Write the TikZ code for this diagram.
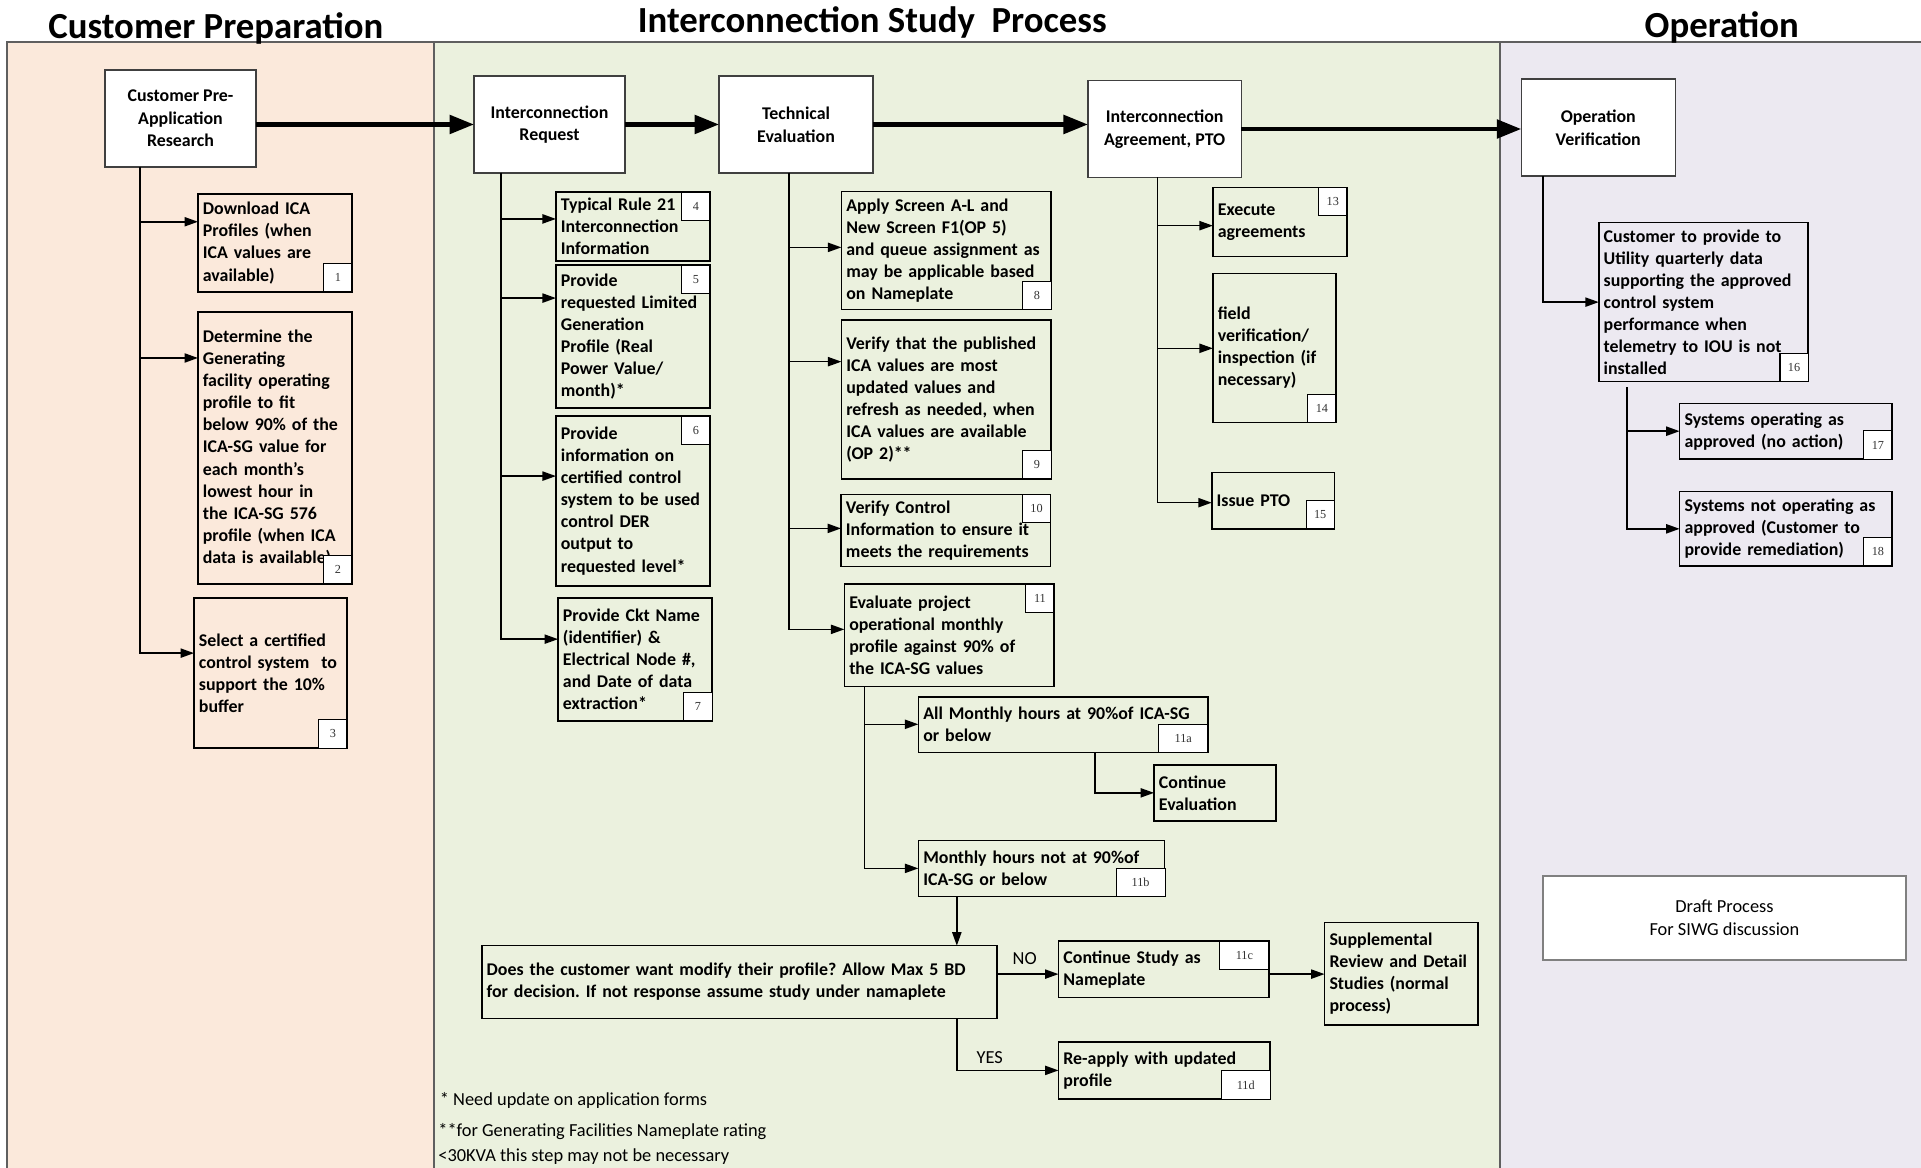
\documentclass[tikz,border=0pt]{standalone}
\usepackage{fontspec}
\setmainfont{Carlito}
\newfontfamily\numserif{Liberation Serif}
\usetikzlibrary{arrows.meta,calc}
\definecolor{peachbg}{HTML}{FBE9DB}
\definecolor{greenbg}{HTML}{EBF1DE}
\definecolor{lavbg}{HTML}{ECE9F1}
\definecolor{panelline}{HTML}{5F5F5F}
\newcommand\fSub{\frenchspacing\fontsize{14.6}{18}\selectfont\bfseries}
\newcommand\fMain{\frenchspacing\fontsize{14.6}{18.5}\selectfont\bfseries}
\newcommand\fNum{\numserif\fontsize{10}{10}\selectfont}
\newcommand\fTitle{\fontsize{30}{36}\selectfont\bfseries}
\newcommand\fPlain{\frenchspacing\fontsize{15}{19}\selectfont}
\begin{document}
\begin{tikzpicture}[x=1pt,y=-1pt,
  sub/.style={draw=black, line width=1.3pt, anchor=north west, inner xsep=4pt, inner ysep=2pt, outer sep=0pt, align=left, font=\fSub},
  mainbox/.style={draw=black!75, fill=white, line width=1.2pt, anchor=north west, inner sep=3pt, outer sep=0pt, align=center, font=\fMain},
  num/.style={draw=black, line width=0.9pt, fill=white, minimum width=23pt, minimum height=23pt, inner sep=0pt, outer sep=0pt, font=\fNum, text=black!80},
  wnum/.style={num, minimum width=40pt},
  conn/.style={line width=1.3pt, -{Triangle[length=11pt,width=7.5pt]}},
  bigarrow/.style={line width=3.6pt, -{Triangle[length=20pt,width=15pt]}},
  lbl/.style={font=\fPlain, inner sep=0pt},
  title/.style={font=\fTitle, inner sep=0pt, anchor=base}
]
\useasboundingbox (0,0) rectangle (1568,953);
% panels
\fill[white] (0,0) rectangle (1568,953);
\fill[peachbg] (5.4,34) rectangle (354.3,953);
\fill[greenbg] (354.3,34) rectangle (1224.4,953);
\fill[lavbg] (1224.4,34) rectangle (1568,953);
\draw[panelline, line width=1.5pt] (5.4,953) -- (5.4,34) -- (1568,34);
\draw[panelline, line width=1.5pt] (354.3,34) -- (354.3,953);
\draw[panelline, line width=1.5pt] (1224.4,34) -- (1224.4,953);
% titles
\node[title] (t1) at (176.2,31.5) {Customer Preparation};
\node[title] (t2) at (712,26.5) {Interconnection Study~~Process};
\node[title] (t3) at (1405.4,31) {Operation};

% main boxes
\node[mainbox, minimum width=123.3pt, minimum height=79.2pt] (CPR) at (85.7,57.1) {Customer Pre-\\Application\\Research};
\node[mainbox, minimum width=123.3pt, minimum height=79.2pt] (IR) at (386.9,62) {Interconnection\\Request};
\node[mainbox, minimum width=125.7pt, minimum height=79.2pt] (TE) at (586.9,62) {Technical\\Evaluation};
\node[mainbox, minimum width=125.3pt, minimum height=78.8pt] (IA) at (888,65.9) {Interconnection\\Agreement, PTO};
\node[mainbox, minimum width=125.7pt, minimum height=79.2pt] (OV) at (1241.7,64.5) {Operation\\Verification};

\draw[bigarrow] (CPR.east |- IR.west) -- (IR.west);
\draw[bigarrow] (IR.east) -- (TE.west);
\draw[bigarrow] (TE.east) -- (TE.east -| IA.west);
\draw[bigarrow] (IA.east) -- (IA.east -| OV.west);

% customer preparation column
\node[sub, minimum width=125.7pt, text width=117.7pt, minimum height=79.9pt] (b1) at (161.6,158.4) {Download ICA\\Profiles (when\\ICA values are\\available)};
\node[sub, minimum width=125.7pt, text width=117.7pt, minimum height=222pt] (b2) at (161.6,254.7) {Determine the\\Generating\\facility operating\\profile to fit\\below 90\% of the\\ICA-SG value for\\each month’s\\lowest hour in\\the ICA-SG 576\\profile (when ICA\\data is available)};
\node[sub, minimum width=124.8pt, text width=116.8pt, minimum height=122.5pt] (b3) at (158.4,488.1) {Select a certified\\control system~ to\\support the 10\%\\buffer};
\node[num, anchor=south east] (n1) at (b1.south east) {1};
\node[num, anchor=south east] (n2) at (b2.south east) {2};
\node[num, anchor=south east] (n3) at (b3.south east) {3};
\coordinate (cprT) at ([xshift=28.6pt]CPR.south west);
\draw[conn] (cprT) |- ([yshift=-22.6pt]b1.north west);
\draw[conn] (cprT) |- ([yshift=-37.5pt]b2.north west);
\draw[conn] (cprT) |- ([yshift=-45pt]b3.north west);

% interconnection request column
\node[sub, minimum width=125.7pt, text width=117.7pt, minimum height=56.3pt] (b4) at (453.8,156.7) {Typical Rule 21\\Interconnection\\Information};
\node[sub, minimum width=125.7pt, text width=117.7pt, minimum height=116.7pt] (b5) at (453.8,216.3) {Provide\\requested Limited\\Generation\\Profile (Real\\Power Value/\\month)*};
\node[sub, minimum width=125.7pt, text width=117.7pt, minimum height=138.7pt] (b6) at (453.8,339.6) {Provide\\information on\\certified control\\system to be used\\control DER\\output to\\requested level*};
\node[sub, minimum width=125.7pt, text width=117.7pt, minimum height=100.4pt] (b7) at (455.5,488.1) {Provide Ckt Name\\(identifier) \&\\Electrical Node \#,\\and Date of data\\extraction*};
\node[num, anchor=north east] (n4) at (b4.north east) {4};
\node[num, anchor=north east] (n5) at (b5.north east) {5};
\node[num, anchor=north east] (n6) at (b6.north east) {6};
\node[num, anchor=south east] (n7) at (b7.south east) {7};
\coordinate (irT) at ([xshift=21.8pt]IR.south west);
\draw[conn] (irT) |- ([yshift=-22pt]b4.north west);
\draw[conn] (irT) |- ([yshift=-27pt]b5.north west);
\draw[conn] (irT) |- ([yshift=-49pt]b6.north west);
\draw[conn] (irT) |- ([yshift=-33.6pt]b7.north west);

% technical evaluation column
\node[sub, minimum width=171.1pt, text width=163.1pt, minimum height=96.1pt] (b8) at (686.8,156.4) {Apply Screen A-L and\\New Screen F1(OP 5)\\and queue assignment as\\may be applicable based\\on Nameplate};
\node[sub, minimum width=171.1pt, text width=163.1pt, minimum height=129.8pt] (b9) at (686.8,261.2) {Verify that the published\\ICA values are most\\updated values and\\refresh as needed, when\\ICA values are available\\(OP 2)**};
\node[sub, minimum width=171.1pt, text width=163.1pt, minimum height=59pt] (b10) at (686.5,403.5) {Verify Control\\Information to ensure it\\meets the requirements};
\node[sub, minimum width=171.1pt, text width=163.1pt, minimum height=83.8pt] (b11) at (689.2,476.7) {Evaluate project\\operational monthly\\profile against 90\% of\\the ICA-SG values};
\node[num, anchor=south east] (n8) at (b8.south east) {8};
\node[num, anchor=south east] (n9) at (b9.south east) {9};
\node[num, anchor=north east] (n10) at (b10.north east) {10};
\node[num, anchor=north east] (n11) at (b11.north east) {11};
\coordinate (teT) at ([xshift=57.1pt]TE.south west);
\draw[conn] (teT) |- ([yshift=-45.5pt]b8.north west);
\draw[conn] (teT) |- ([yshift=-34pt]b9.north west);
\draw[conn] (teT) |- ([yshift=-27.8pt]b10.north west);
\draw[conn] (teT) |- ([yshift=-37pt]b11.north west);

% evaluation branches
\node[sub, minimum width=236.2pt, text width=228.2pt, minimum height=45.4pt] (b11a) at (749.6,568.7) {All Monthly hours at 90\%of ICA-SG\\or below};
\node[sub, minimum width=99.3pt, text width=91.3pt, minimum height=45.5pt] (ce) at (942,624.4) {Continue\\Evaluation};
\node[sub, minimum width=200.8pt, text width=192.8pt, minimum height=45.7pt] (b11b) at (749.6,686.2) {Monthly hours not at 90\%of\\ICA-SG or below};
\node[wnum, anchor=south east] (n11a) at (b11a.south east) {11a};
\node[wnum, anchor=south east] (n11b) at ([xshift=0.6pt]b11b.south east) {11b};
\coordinate (e11T) at ([xshift=16.3pt]b11.south west);
\draw[conn] (e11T) |- ([yshift=-22.5pt]b11a.north west);
\draw[conn] (e11T) |- ([yshift=-22.6pt]b11b.north west);
\coordinate (aT) at ([xshift=144.2pt]b11a.south west);
\draw[conn] (aT) |- (ce.west);

% decision
\node[sub, minimum width=420.8pt, text width=412.8pt, minimum height=59.3pt] (dec) at (393.2,771.9) {Does the customer want modify their profile? Allow Max 5 BD\\for decision. If not response assume study under namaplete};
\node[sub, minimum width=171.7pt, text width=163.7pt, minimum height=46pt] (c11) at (864,768.1) {Continue Study as\\Nameplate};
\node[sub, minimum width=172.8pt, text width=164.8pt, minimum height=46.8pt] (d11) at (864,850.3) {Re-apply with updated\\profile};
\node[sub, minimum width=125.4pt, text width=117.4pt, minimum height=83.8pt] (supp) at (1081.2,752.9) {Supplemental\\Review and Detail\\Studies (normal\\process)};
\node[wnum, anchor=north east] (n11c) at (c11.north east) {11c};
\node[wnum, anchor=south east] (n11d) at (d11.south east) {11d};
\coordinate (bT) at ([xshift=31.4pt]b11b.south west);
\draw[conn] (bT) -- (bT |- dec.north);
\coordinate (noR) at ([yshift=-4pt]c11.west);
\draw[conn] (noR -| dec.east) -- (noR);
\draw[conn] (noR -| c11.east) -- (noR -| supp.west);
\draw[conn] (bT |- dec.south) |- (d11.west);
\node[lbl] (nolab) at (836.4,782.2) {NO};
\node[lbl] (yeslab) at (807.8,863) {YES};

% agreement column
\node[sub, minimum width=109.4pt, text width=101.4pt, minimum height=56.6pt] (b13) at (990,152.9) {Execute\\agreements};
\node[sub, minimum width=100.5pt, text width=92.5pt, minimum height=121.6pt] (b14) at (990,223.1) {field\\verification/\\inspection (if\\necessary)};
\node[sub, minimum width=100pt, text width=92pt, minimum height=46pt] (b15) at (989.1,385.8) {Issue PTO};
\node[num, anchor=north east] (n13) at (b13.north east) {13};
\node[num, anchor=south east] (n14) at (b14.south east) {14};
\node[num, anchor=south east] (n15) at (b15.south east) {15};
\coordinate (iaT) at ([xshift=56.8pt]IA.south west);
\draw[conn] (iaT) |- ([yshift=-31.3pt]b13.north west);
\draw[conn] (iaT) |- ([yshift=-61.2pt]b14.north west);
\draw[conn] (iaT) |- ([yshift=-24.5pt]b15.north west);

% operation column
\node[sub, minimum width=170.9pt, text width=162.9pt, minimum height=129.8pt] (b16) at (1305,181.7) {Customer to provide to\\Utility quarterly data\\supporting the approved\\control system\\performance when\\telemetry to IOU is not\\installed};
\node[sub, minimum width=173.3pt, text width=165.3pt, minimum height=45.5pt] (b17) at (1371,329.2) {Systems operating as\\approved (no action)};
\node[sub, minimum width=173.3pt, text width=165.3pt, minimum height=60.7pt] (b18) at (1371,401.3) {Systems not operating as\\approved (Customer to\\provide remediation)};
\node[num, anchor=south east] (n16) at (b16.south east) {16};
\node[num, anchor=south east] (n17) at (b17.south east) {17};
\node[num, anchor=south east] (n18) at (b18.south east) {18};
\coordinate (ovT) at ([xshift=17.8pt]OV.south west);
\draw[conn] (ovT) |- (b16.west);
\coordinate (s16T) at ([xshift=22.9pt,yshift=-4.7pt]b16.south west);
\draw[conn] (s16T) |- (b17.west);
\draw[conn] (s16T) |- (b18.west);

% draft note
\node[draw=black!50, fill=white, line width=1.4pt, anchor=north west, outer sep=0pt, minimum width=296.5pt, minimum height=68.6pt, align=center, font=\fPlain] (draft) at (1259.3,715) {Draft Process\\For SIWG discussion};

% footnotes
\node[lbl, anchor=base west] (fn1) at (358.8,902) {* Need update on application forms};
\node[lbl, anchor=base west] (fn2) at (357.6,928) {**for Generating Facilities Nameplate rating};
\node[lbl, anchor=base west] (fn3) at (357.6,948.2) {<30KVA this step may not be necessary};
\end{tikzpicture}
\end{document}
